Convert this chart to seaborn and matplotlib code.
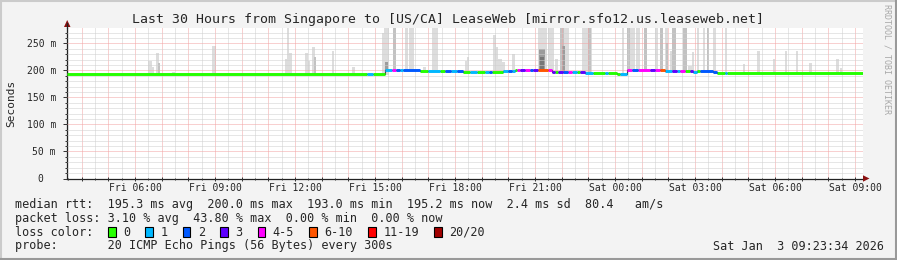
import numpy as np
import pandas as pd
import matplotlib
matplotlib.use("Agg")
import matplotlib.pyplot as plt
import matplotlib.ticker as mticker
from matplotlib.lines import Line2D
from matplotlib.patches import Polygon, Rectangle
import seaborn as sns

# ---------------- data (hours since Fri 00:00, milliseconds) ----------------
t_begin = 3.45
t_end = 33.30

seg_start = [3.45, 14.70, 14.93, 15.38, 15.64, 15.79, 15.94, 16.05, 16.69, 16.99,
             17.44, 17.63, 17.85, 18.08, 18.30, 18.56, 18.83, 19.13, 19.27, 19.39,
             19.80, 19.99, 20.14, 20.25, 20.33, 20.44, 20.63, 20.81, 20.93, 21.11,
             21.49, 21.64, 21.75, 21.86, 22.05, 22.24, 22.39, 22.58, 22.69, 22.88,
             23.18, 23.63, 23.74, 24.08, 24.19, 24.45, 24.64, 24.86, 25.31, 25.50,
             25.69, 25.88, 26.14, 26.33, 26.44, 26.63, 26.81, 26.93, 27.08, 27.19,
             27.68, 27.83, 28.13, 28.20]
seg_ms = [193, 193, 193, 200, 200, 200, 200, 200, 198.5, 199,
          199, 199, 199, 199, 197.5, 198, 198, 198, 198, 198,
          198.5, 199, 199, 200, 200, 200, 200, 200, 200, 200,
          200, 198, 196.5, 197, 197, 197, 197, 197, 197, 195.5,
          195, 195, 195, 194, 193, 200, 200, 200, 200, 200,
          200, 199.5, 199.5, 199.5, 199.5, 199, 199, 197.5, 198.5, 199,
          197, 195.5, 195.5, 195.5]
seg_loss = [0, 1, 0, 1, 4, 2, 1, 2, 0, 1,
            0, 2, 1, 2, 0, 1, 0, 1, 2, 0,
            1, 2, 1, 0, 4, 3, 4, 2, 3, 5,
            4, 3, 0, 3, 2, 4, 1, 0, 3, 1,
            0, 1, 0, 0, 1, 4, 2, 4, 3, 4,
            5, 1, 3, 1, 4, 0, 3, 1, 0, 2,
            2, 0, 1, 0]

smoke_start = [3.79, 4.39, 6.49, 6.64, 6.79, 6.86, 7.39, 8.89, 9.38, 11.63,
               11.70, 11.78, 12.38, 12.45, 12.64, 12.71, 13.39, 14.14, 14.70, 15.26,
               15.34, 15.38, 15.68, 16.13, 16.28, 16.80, 17.14, 18.38, 18.45, 19.43,
               19.54, 19.61, 19.76, 20.14, 21.11, 21.15, 21.19, 21.49, 21.75, 21.94,
               22.01, 22.09, 22.76, 22.99, 24.26, 24.45, 24.56, 24.79, 25.09, 25.50,
               25.69, 25.88, 25.91, 26.06, 26.14, 26.55, 26.74, 26.89, 27.08, 27.30,
               27.45, 27.68, 28.13, 28.80, 29.33, 29.93, 30.38, 30.79, 31.28, 32.29,
               32.44]
smoke_end = [3.86, 4.50, 6.64, 6.71, 6.90, 6.94, 7.50, 9.04, 9.49, 11.74,
             11.78, 11.89, 12.49, 12.56, 12.75, 12.79, 13.46, 14.25, 14.89, 15.34,
             15.53, 15.49, 15.79, 16.24, 16.46, 16.91, 17.36, 18.45, 18.53, 19.54,
             19.61, 19.76, 19.88, 20.25, 21.45, 21.38, 21.34, 21.71, 21.86, 22.09,
             22.13, 22.28, 23.14, 23.10, 24.34, 24.56, 24.75, 24.94, 25.20, 25.61,
             25.80, 25.99, 25.99, 26.18, 26.29, 26.70, 26.93, 26.96, 27.15, 27.38,
             27.53, 27.79, 28.20, 28.88, 29.44, 30.00, 30.45, 30.86, 31.39, 32.40,
             32.51]
smoke_top = [196, 195.5, 218, 207, 232, 214, 197, 246, 196, 222,
             300, 233, 232, 218, 244, 225, 236, 206, 196, 269,
             300, 215, 300, 300, 300, 206, 300, 218, 225, 265,
             243, 222, 215, 231, 300, 240, 225, 300, 222, 300,
             246, 300, 300, 300, 300, 300, 300, 300, 300, 300,
             300, 300, 250, 237, 300, 300, 209, 235, 300, 300,
             300, 300, 300, 212, 237, 222, 237, 236, 213, 222,
             205]
smoke_shade = [0, 0, 0, 0, 0, 1, 0, 0, 0, 0,
               0, 0, 0, 0, 0, 1, 0, 0, 0, 0,
               0, 2, 1, 0, 0, 0, 0, 0, 0, 0,
               0, 0, 0, 0, 0, 2, 3, 0, 0, 1,
               2, 0, 0, 1, 0, 1, 0, 0, 1, 0,
               1, 0, 1, 0, 1, 1, 0, 0, 0, 0,
               1, 0, 0, 0, 0, 0, 0, 0, 0, 0,
               0]

loss_labels = ["0", "1", "2", "3", "4-5", "6-10", "11-19", "20/20"]
ytick_values = [0, 50, 100, 150, 200, 250]

title = "Last 30 Hours from Singapore to [US/CA] LeaseWeb [mirror.sfo12.us.leaseweb.net]"
stat_rtt = "median rtt:  195.3 ms avg  200.0 ms max  193.0 ms min  195.2 ms now  2.4 ms sd  80.4   am/s"
stat_loss = "packet loss: 3.10 % avg  43.80 % max  0.00 % min  0.00 % now"
probe_text = "probe:       20 ICMP Echo Pings (56 Bytes) every 300s"
date_text = "Sat Jan  3 09:23:34 2026"

# ---------------- styles ----------------
loss_colors = ["#26ff00", "#00b8ff", "#0059ff", "#5e00ff", "#ff00ff", "#ff5500", "#ff0000", "#a10000"]
shade_colors = ["#dddddd", "#c2c2c2", "#9c9c9c", "#777777"]
MONO = "DejaVu Sans Mono"

sns.set_theme(style="white")
plt.rcParams["font.family"] = [MONO, "DejaVu Sans"]

W, H = 897, 260
fig = plt.figure(figsize=(W / 100, H / 100), dpi=100, facecolor="#f3f3f3")

def fx(x):
    return x / W

def fy(y):
    return 1 - y / H

ax = fig.add_axes([fx(67), fy(178.5), 796 / W, 150.5 / H])
ax.set_facecolor("#ffffff")
ax.set_xlim(t_begin, t_end)
ax.set_ylim(0, 278.7)

# smoke
starts = np.array(seg_start)
ms = np.array(seg_ms)
order = np.argsort(np.array(smoke_shade), kind="stable")
for i in order:
    s, e = smoke_start[i], smoke_end[i]
    idx = np.searchsorted(starts, s, side="right") - 1
    base = ms[max(idx, 0)] - 1.0
    ax.bar(s, smoke_top[i] - base, width=e - s, bottom=base, align="edge",
           color=shade_colors[smoke_shade[i]], linewidth=0, zorder=1)

# median step connector
step_x = list(seg_start) + [t_end]
step_y = list(seg_ms) + [seg_ms[-1]]
ax.step(step_x, step_y, where="post", color="#444444", lw=0.8, zorder=3)

# coloured median segments via seaborn
rows = []
for k in range(len(seg_start)):
    e = seg_start[k + 1] if k + 1 < len(seg_start) else t_end
    rows.append({"t": seg_start[k], "ms": seg_ms[k], "loss": loss_labels[seg_loss[k]], "seg": k})
    rows.append({"t": e, "ms": seg_ms[k], "loss": loss_labels[seg_loss[k]], "seg": k})
df = pd.DataFrame(rows)
palette = dict(zip(loss_labels, loss_colors))
sns.lineplot(data=df, x="t", y="ms", hue="loss", units="seg", estimator=None,
             palette=palette, legend=False, lw=2.1, ax=ax, zorder=4,
             solid_capstyle="butt")

ax.set_xlabel("")
ax.set_ylabel("")

# grid
ax.xaxis.set_major_locator(mticker.MultipleLocator(1))
ax.xaxis.set_minor_locator(mticker.MultipleLocator(0.5))
ax.yaxis.set_major_locator(mticker.FixedLocator(ytick_values))
ax.yaxis.set_minor_locator(mticker.MultipleLocator(10))
ax.grid(which="major", color="#f3a3a3", linestyle=(0, (1, 1)), lw=0.72)
ax.grid(which="minor", color="#cfcfcf", linestyle=(0, (1, 1)), lw=0.72)
ax.set_axisbelow(False)

def xfmt(v, pos):
    h = int(round(v))
    if h % 3:
        return ""
    day = "Fri" if h < 24 else "Sat"
    return f"{day} {h % 24:02d}:00"

def yfmt(v, pos):
    if v == 0:
        return "0  "
    return f"{int(v)} m"

ax.xaxis.set_major_formatter(mticker.FuncFormatter(xfmt))
ax.yaxis.set_major_formatter(mticker.FuncFormatter(yfmt))
ax.tick_params(axis="x", which="major", length=3, width=0.7, direction="inout",
               color="#333333", labelsize=7, pad=2)
ax.tick_params(axis="x", which="minor", length=2, width=0.7, direction="inout", color="#333333")
ax.tick_params(axis="y", which="major", length=3, width=0.7, direction="out",
               color="#333333", labelsize=7, pad=5)
ax.tick_params(axis="y", which="minor", length=1.5, width=0.7, direction="out", color="#333333")
ax.tick_params(bottom=True, left=True, which="both")
for lab in ax.get_xticklabels() + ax.get_yticklabels():
    lab.set_family(MONO)

for sp in ["top", "right"]:
    ax.spines[sp].set_visible(False)
for sp in ["left", "bottom"]:
    ax.spines[sp].set_color("#222222")
    ax.spines[sp].set_linewidth(0.9)

# axis arrows
fig.add_artist(Line2D([fx(67), fx(67)], [fy(28), fy(23)], color="#222222", lw=0.9))
fig.add_artist(Polygon([[fx(64), fy(27)], [fx(70.5), fy(27)], [fx(67.2), fy(20)]],
                       closed=True, color="#8b1010", lw=0))
fig.add_artist(Polygon([[fx(863), fy(175.3)], [fx(863), fy(181.7)], [fx(869.5), fy(178.5)]],
                       closed=True, color="#8b1010", lw=0))

# texts
fig.text(fx(448), fy(19), title, ha="center", va="center", fontsize=9.5, family=MONO)
fig.text(fx(11), fy(103), "Seconds", rotation=90, ha="center", va="center", fontsize=8, family=MONO)
fig.text(fx(887), fy(59), "RRDTOOL / TOBI OETIKER", rotation=270, ha="center", va="center",
         fontsize=6, color="#a8a8a8", family=MONO)

fig.text(fx(15), fy(204.5), stat_rtt, ha="left", va="center", fontsize=8.5, family=MONO)
fig.text(fx(15), fy(218.3), stat_loss, ha="left", va="center", fontsize=8.5, family=MONO)
fig.text(fx(15), fy(232), "loss color:", ha="left", va="center", fontsize=8.5, family=MONO)
fig.text(fx(15), fy(246), probe_text, ha="left", va="center", fontsize=8.5, family=MONO)
fig.text(fx(884), fy(246), date_text, ha="right", va="center", fontsize=8.5, family=MONO)

box_x = 108.0
for lab, col in zip(loss_labels, loss_colors):
    fig.add_artist(Rectangle((fx(box_x), fy(237)), 7.5 / W, 10 / H, facecolor=col,
                             edgecolor="#000000", lw=0.8))
    fig.text(fx(box_x + 15), fy(232), lab, ha="left", va="center", fontsize=8.5, family=MONO)
    box_x += 15 + len(lab) * 7.14 + 15.3

# frame shading
fig.add_artist(Line2D([0, 1], [fy(0.5), fy(0.5)], color="#cbcbcb", lw=1.5))
fig.add_artist(Line2D([fx(0.5), fx(0.5)], [0, 1], color="#cbcbcb", lw=1.5))
fig.add_artist(Line2D([0, 1], [fy(259), fy(259)], color="#999999", lw=1.5))
fig.add_artist(Line2D([fx(896), fx(896)], [0, 1], color="#999999", lw=1.5))

fig.savefig("out.png", dpi=100, facecolor=fig.get_facecolor())
